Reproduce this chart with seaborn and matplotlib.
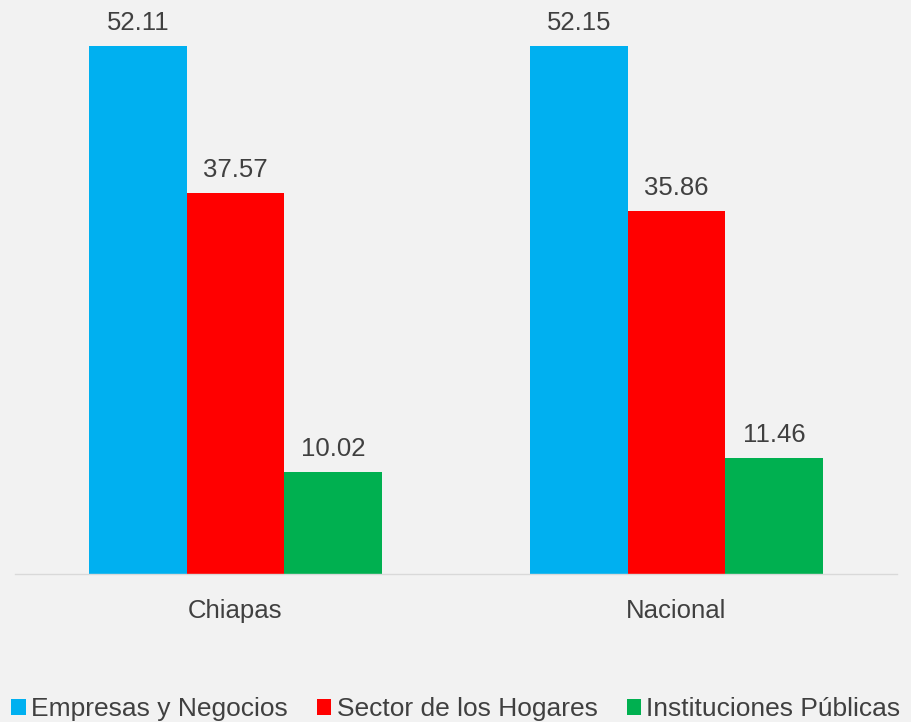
import pandas as pd
import matplotlib.pyplot as plt
import seaborn as sns

# Data
regions = ['Chiapas', 'Nacional']
sectors = ['Empresas y Negocios', 'Sector de los Hogares', 'Instituciones Públicas']
empresas = [52.11, 52.15]
hogares = [37.57, 35.86]
instituciones = [10.02, 11.46]

colors = ['#00B0F0', '#FF0000', '#00B050']
bg = '#F2F2F2'
text_color = '#404040'

df = pd.DataFrame({
    'region': regions * 3,
    'sector': [sectors[0]] * 2 + [sectors[1]] * 2 + [sectors[2]] * 2,
    'value': empresas + hogares + instituciones,
})

sns.set_style("white")
plt.rcParams['font.family'] = ['Liberation Sans', 'DejaVu Sans']

fig = plt.figure(figsize=(9.12, 7.22), dpi=100, facecolor=bg)
ax = fig.add_axes([15 / 912, 148 / 722, 882 / 912, 574 / 722])
ax.set_facecolor(bg)

sns.barplot(data=df, x='region', y='value', hue='sector', hue_order=sectors,
            palette=colors, width=0.664, saturation=1, linewidth=0,
            ax=ax, legend=True)

for container in ax.containers:
    ax.bar_label(container, fmt='%.2f', padding=8, fontsize=18.5, color=text_color)

ax.set_ylim(0, 56.66)
ax.set_xlim(-0.5, 1.5)
ax.set_xlabel('')
ax.set_ylabel('')
ax.set_yticks([])
ax.tick_params(axis='x', labelsize=18.5, colors=text_color, length=0, pad=18)
for side in ['top', 'right', 'left']:
    ax.spines[side].set_visible(False)
ax.spines['bottom'].set_color('#D9D9D9')
ax.spines['bottom'].set_linewidth(1)

handles, labels = ax.get_legend_handles_labels()
ax.legend_.remove()
fig.legend(handles, labels, loc='center', bbox_to_anchor=(0.5, 13 / 722),
           ncol=3, frameon=False, fontsize=19, handlelength=0.55, handleheight=0.55,
           handletextpad=0.2, columnspacing=1.1, labelcolor=text_color,
           borderpad=0, borderaxespad=0)

fig.savefig('out.png', dpi=100, facecolor=bg)
